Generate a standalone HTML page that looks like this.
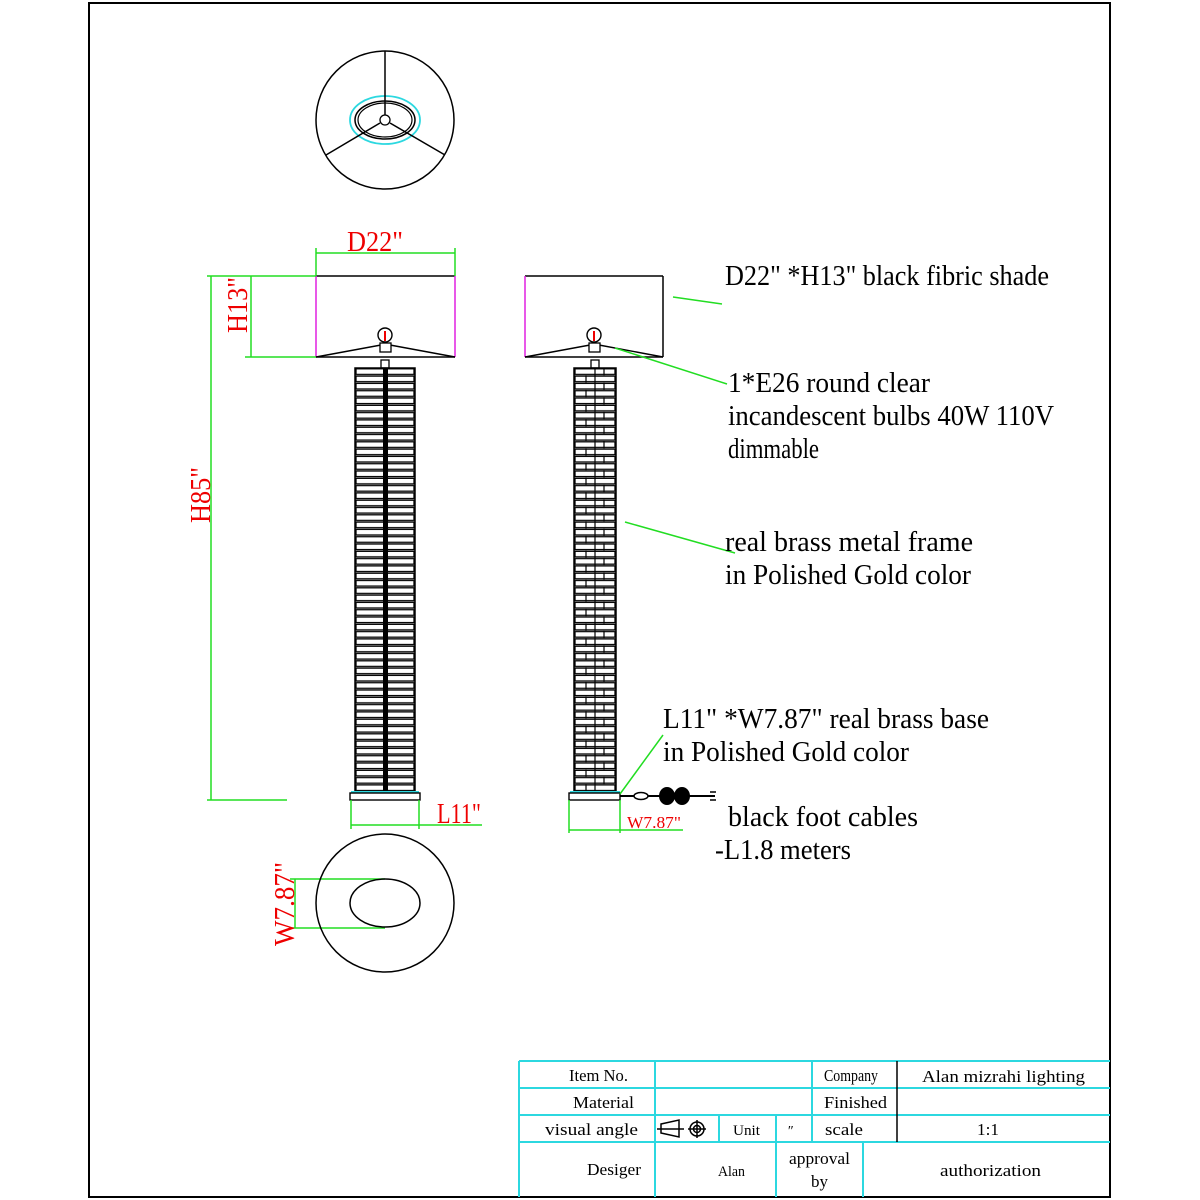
<!DOCTYPE html>
<html><head><meta charset="utf-8"><style>
html,body{margin:0;padding:0;background:#fff;}
svg{display:block}
text{font-family:"Liberation Serif","Noto Serif CJK SC",serif;}
</style></head><body>
<svg width="1200" height="1200" viewBox="0 0 1200 1200" xmlns="http://www.w3.org/2000/svg">
<defs>
<pattern id="pl" x="355" y="368" width="60" height="7.3" patternUnits="userSpaceOnUse">
<rect x="0" y="0" width="60" height="7.3" fill="#fff"/>
<rect x="1" y="0.8" width="58" height="5.6" fill="#fff" stroke="#000" stroke-width="1.3"/>
<rect x="28" y="0" width="5" height="7.3" fill="#000"/>
</pattern>
<pattern id="pr" x="574" y="368" width="42" height="14.6" patternUnits="userSpaceOnUse">
<rect x="0" y="0" width="42" height="14.6" fill="#fff"/>
<rect x="1" y="0.8" width="40" height="5.6" fill="none" stroke="#000" stroke-width="1.3"/>
<rect x="1" y="8.1" width="40" height="5.6" fill="none" stroke="#000" stroke-width="1.3"/>
<line x1="21" y1="0" x2="21" y2="14.6" stroke="#000" stroke-width="1.2"/>
<line x1="30" y1="0" x2="30" y2="7.3" stroke="#000" stroke-width="1.2"/>
<line x1="12" y1="7.3" x2="12" y2="14.6" stroke="#000" stroke-width="1.2"/>
</pattern>
</defs>
<rect x="89" y="3" width="1021" height="1194" fill="none" stroke="#000" stroke-width="2"/>

<!-- top view -->
<circle cx="385" cy="120" r="69" fill="none" stroke="#000" stroke-width="1.5"/>
<ellipse cx="385" cy="120" rx="35" ry="24" fill="none" stroke="#2cd8e0" stroke-width="1.8"/>
<ellipse cx="385" cy="120" rx="30" ry="19" fill="none" stroke="#000" stroke-width="1.5"/>
<ellipse cx="385" cy="120" rx="27" ry="17" fill="none" stroke="#000" stroke-width="1.2"/>
<line x1="385" y1="51" x2="385" y2="115" stroke="#000" stroke-width="1.5"/>
<line x1="380" y1="123" x2="326" y2="155" stroke="#000" stroke-width="1.5"/>
<line x1="390" y1="123" x2="445" y2="155" stroke="#000" stroke-width="1.5"/>
<circle cx="385" cy="120" r="5" fill="#fff" stroke="#000" stroke-width="1.3"/>

<!-- left lamp shade -->
<line x1="316" y1="276" x2="455" y2="276" stroke="#000" stroke-width="1.5"/>
<line x1="316" y1="357" x2="455" y2="357" stroke="#000" stroke-width="1.5"/>
<line x1="316" y1="276" x2="316" y2="357" stroke="#e020e0" stroke-width="1.5"/>
<line x1="455" y1="276" x2="455" y2="357" stroke="#e020e0" stroke-width="1.5"/>
<polyline points="316,357 381,345 390,345 455,357" fill="none" stroke="#000" stroke-width="1.4"/>
<circle cx="385" cy="335" r="7" fill="#fff" stroke="#000" stroke-width="1.4"/>
<line x1="385" y1="331" x2="385" y2="341" stroke="#e00" stroke-width="2"/>
<rect x="380" y="343" width="11" height="9" fill="#fff" stroke="#000" stroke-width="1.3"/>
<rect x="381" y="360" width="8" height="8" fill="#fff" stroke="#000" stroke-width="1.3"/>
<rect x="355" y="368" width="60" height="424" fill="url(#pl)" stroke="#000" stroke-width="1.5"/>
<line x1="351" y1="792" x2="419" y2="792" stroke="#2cd8e0" stroke-width="2"/>
<rect x="350" y="793" width="70" height="7" fill="#fff" stroke="#000" stroke-width="1.4"/>

<!-- dims left -->
<g stroke="#22dd22" stroke-width="1.5" fill="none">
<line x1="316" y1="248" x2="316" y2="276"/><line x1="455" y1="248" x2="455" y2="276"/>
<line x1="316" y1="253" x2="455" y2="253"/>
<line x1="245" y1="276" x2="316" y2="276"/><line x1="245" y1="357" x2="316" y2="357"/>
<line x1="251" y1="276" x2="251" y2="357"/>
<line x1="207" y1="276" x2="245" y2="276"/><line x1="207" y1="800" x2="287" y2="800"/>
<line x1="211" y1="276" x2="211" y2="800"/>
<line x1="351" y1="800" x2="351" y2="829"/><line x1="419" y1="800" x2="419" y2="829"/>
<line x1="351" y1="825" x2="482" y2="825"/>
<line x1="290" y1="879" x2="385" y2="879"/><line x1="290" y1="928" x2="385" y2="928"/>
<line x1="295" y1="879" x2="295" y2="928"/>
</g>
<g fill="#e00" font-size="28">
<text x="347" y="251" textLength="56" lengthAdjust="spacingAndGlyphs">D22"</text>
<text x="437" y="823" textLength="44" lengthAdjust="spacingAndGlyphs">L11"</text>
<text transform="translate(247,333) rotate(-90)" textLength="56" lengthAdjust="spacingAndGlyphs">H13"</text>
<text transform="translate(210,523) rotate(-90)" textLength="56" lengthAdjust="spacingAndGlyphs">H85"</text>
<text transform="translate(294,946) rotate(-90)" textLength="84" lengthAdjust="spacingAndGlyphs">W7.87"</text>
</g>

<!-- bottom view -->
<circle cx="385" cy="903" r="69" fill="none" stroke="#000" stroke-width="1.5"/>
<ellipse cx="385" cy="903" rx="35" ry="24" fill="none" stroke="#000" stroke-width="1.5"/>

<!-- right lamp -->
<line x1="525" y1="276" x2="663" y2="276" stroke="#000" stroke-width="1.5"/>
<line x1="525" y1="357" x2="663" y2="357" stroke="#000" stroke-width="1.5"/>
<line x1="525" y1="276" x2="525" y2="357" stroke="#e020e0" stroke-width="1.5"/>
<line x1="663" y1="276" x2="663" y2="357" stroke="#000" stroke-width="1.5"/>
<polyline points="525,357 590,345 599,345 663,357" fill="none" stroke="#000" stroke-width="1.4"/>
<circle cx="594" cy="335" r="7" fill="#fff" stroke="#000" stroke-width="1.4"/>
<line x1="594" y1="331" x2="594" y2="341" stroke="#e00" stroke-width="2"/>
<rect x="589" y="343" width="11" height="9" fill="#fff" stroke="#000" stroke-width="1.3"/>
<rect x="591" y="360" width="8" height="8" fill="#fff" stroke="#000" stroke-width="1.3"/>
<rect x="574" y="368" width="42" height="424" fill="url(#pr)" stroke="#000" stroke-width="1.5"/>
<line x1="570" y1="792" x2="620" y2="792" stroke="#2cd8e0" stroke-width="2"/>
<rect x="569" y="793" width="51" height="7" fill="#fff" stroke="#000" stroke-width="1.4"/>
<line x1="620" y1="796" x2="715" y2="796" stroke="#000" stroke-width="2"/>
<ellipse cx="641" cy="796" rx="7" ry="3.5" fill="#fff" stroke="#000" stroke-width="1.5"/>
<ellipse cx="667" cy="796" rx="8" ry="9" fill="#000"/><ellipse cx="682" cy="796" rx="8" ry="9" fill="#000"/>
<line x1="710" y1="792" x2="716" y2="792" stroke="#000" stroke-width="1.5"/>
<line x1="710" y1="800" x2="716" y2="800" stroke="#000" stroke-width="1.5"/>

<g stroke="#22dd22" stroke-width="1.5" fill="none">
<line x1="569" y1="800" x2="569" y2="833"/><line x1="620" y1="800" x2="620" y2="833"/>
<line x1="569" y1="830" x2="683" y2="830"/>
<line x1="673" y1="297" x2="722" y2="304"/>
<line x1="615" y1="348" x2="727" y2="384"/>
<line x1="625" y1="522" x2="735" y2="553"/>
<line x1="620" y1="794" x2="663" y2="735"/>
</g>
<text x="627" y="828" fill="#e00" font-size="17" textLength="54" lengthAdjust="spacingAndGlyphs">W7.87"</text>

<g fill="#000" font-size="28">
<text x="725" y="285" textLength="324" lengthAdjust="spacingAndGlyphs">D22" *H13" black fibric shade</text>
<text x="728" y="392" textLength="202" lengthAdjust="spacingAndGlyphs">1*E26 round  clear</text>
<text x="728" y="425" textLength="326" lengthAdjust="spacingAndGlyphs">incandescent  bulbs  40W 110V</text>
<text x="728" y="458" textLength="91" lengthAdjust="spacingAndGlyphs">dimmable</text>
<text x="725" y="551" textLength="248" lengthAdjust="spacingAndGlyphs">real brass metal frame</text>
<text x="725" y="584" textLength="246" lengthAdjust="spacingAndGlyphs">in Polished Gold color</text>
<text x="663" y="728" textLength="326" lengthAdjust="spacingAndGlyphs">L11" *W7.87"  real brass base</text>
<text x="663" y="761" textLength="246" lengthAdjust="spacingAndGlyphs">in Polished Gold color</text>
<text x="728" y="826" textLength="190" lengthAdjust="spacingAndGlyphs">black foot cables</text>
<text x="715" y="859" textLength="136" lengthAdjust="spacingAndGlyphs">-L1.8 meters</text>
</g>

<!-- title block -->
<g stroke="#2cd8e0" stroke-width="2" fill="none">
<line x1="519" y1="1061" x2="1110" y2="1061"/>
<line x1="519" y1="1088" x2="1110" y2="1088"/>
<line x1="519" y1="1115" x2="1110" y2="1115"/>
<line x1="519" y1="1142" x2="1110" y2="1142"/>
<line x1="519" y1="1061" x2="519" y2="1197"/>
<line x1="655" y1="1061" x2="655" y2="1197"/>
<line x1="812" y1="1061" x2="812" y2="1142"/>
<line x1="719" y1="1115" x2="719" y2="1142"/>
<line x1="776" y1="1115" x2="776" y2="1197"/>
<line x1="863" y1="1142" x2="863" y2="1197"/>
</g>
<line x1="897" y1="1061" x2="897" y2="1142" stroke="#000" stroke-width="1.5"/>
<g fill="#000" font-size="17">
<text x="569" y="1081" textLength="59" lengthAdjust="spacingAndGlyphs">Item No.</text>
<text x="573" y="1108" textLength="61" lengthAdjust="spacingAndGlyphs">Material</text>
<text x="545" y="1135" textLength="93" lengthAdjust="spacingAndGlyphs">visual angle</text>
<text x="733" y="1135" textLength="27" lengthAdjust="spacingAndGlyphs" font-size="15">Unit</text>
<text x="787" y="1135" font-size="14" font-style="italic">″</text>
<text x="824" y="1081" textLength="54" lengthAdjust="spacingAndGlyphs">Company</text>
<text x="824" y="1108" textLength="63" lengthAdjust="spacingAndGlyphs">Finished</text>
<text x="825" y="1135" textLength="38" lengthAdjust="spacingAndGlyphs">scale</text>
<text x="922" y="1082" textLength="163" lengthAdjust="spacingAndGlyphs">Alan mizrahi lighting</text>
<text x="977" y="1135" textLength="22" lengthAdjust="spacingAndGlyphs">1:1</text>
<text x="587" y="1175" textLength="54" lengthAdjust="spacingAndGlyphs">Desiger</text>
<text x="718" y="1176" textLength="27" lengthAdjust="spacingAndGlyphs" font-size="15">Alan</text>
<text x="789" y="1164" textLength="61" lengthAdjust="spacingAndGlyphs">approval</text>
<text x="811" y="1187" textLength="17" lengthAdjust="spacingAndGlyphs">by</text>
<text x="940" y="1176" textLength="101" lengthAdjust="spacingAndGlyphs">authorization</text>
</g>
<!-- visual angle symbol -->
<g stroke="#000" stroke-width="1.5" fill="none">
<polygon points="661,1124 679,1120 679,1137 661,1133"/>
<line x1="657" y1="1129" x2="684" y2="1129"/>
<circle cx="697" cy="1129" r="7"/><circle cx="697" cy="1129" r="3.5"/>
<line x1="688" y1="1129" x2="706" y2="1129"/><line x1="697" y1="1120" x2="697" y2="1138"/>
</g>
</svg>
</body></html>
